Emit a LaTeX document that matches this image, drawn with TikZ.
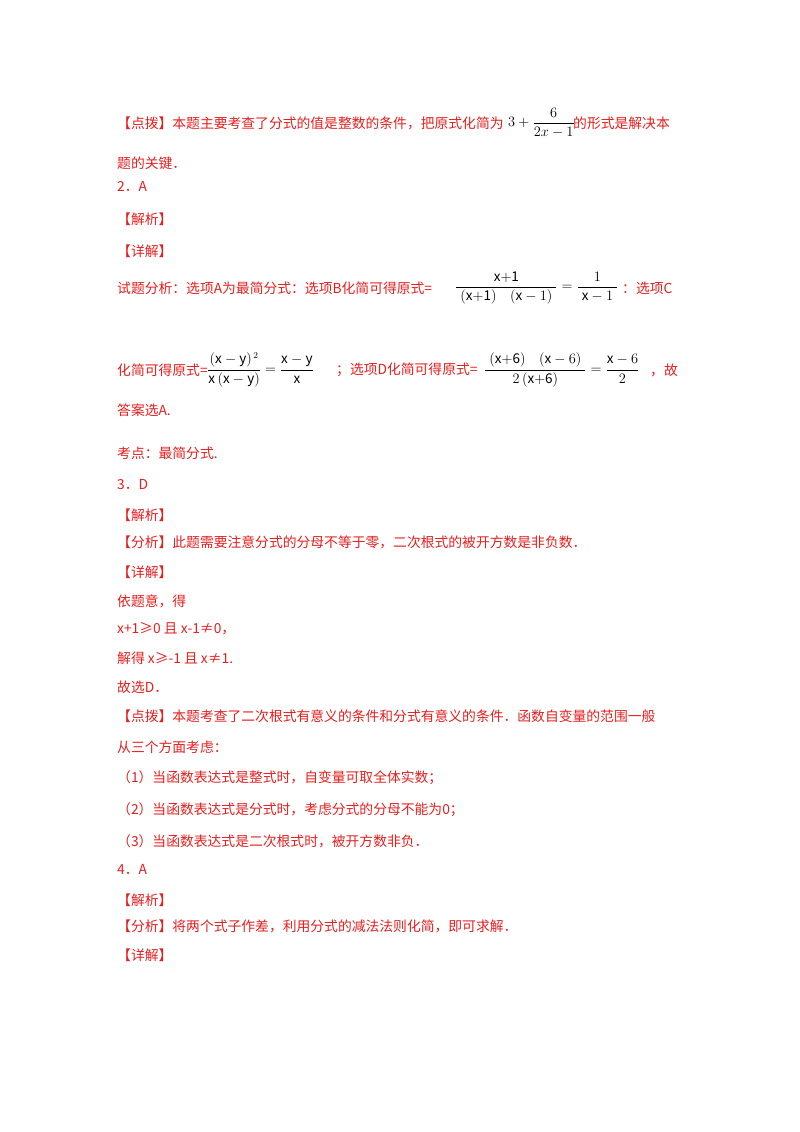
\documentclass[tikz,border=0pt]{standalone}
\usepackage{amsmath}
\usepackage{fontspec}
\setmainfont{Noto Sans CJK SC}
\definecolor{rd}{RGB}{230,30,30}
\begin{document}
\begin{tikzpicture}[x=1pt,y=-1pt,
 t/.style={anchor=west,inner sep=0pt,text=rd,font=\fontsize{13.8}{15}\selectfont},
 f/.style={anchor=west,inner sep=0pt,text=black,font=\fontsize{13.5}{15}\selectfont}]
\useasboundingbox (0,0) rectangle (800,1132);
\node[t] (l1a) at (117,123) {【点拨】本题主要考查了分式的值是整数的条件，把原式化简为};
\node[f] (l1f) at (508,123) {$3+\dfrac{6}{2x-1}$};
\node[t] (l1b) at (573,123) {的形式是解决本};
\node[t] (l2) at (117,163) {题的关键．};
\node[t] (l3) at (117,186) {2．A};
\node[t] (l4) at (117,219) {【解析】};
\node[t] (l5) at (117,251) {【详解】};
\node[t] (l6a) at (117,288) {试题分析：选项A为最简分式：选项B化简可得原式=};
\node[f] (l6f) at (455,288) {$\dfrac{\mathrm{x{+}1}}{\;(\mathrm{x{+}1})\quad(\mathrm{x}-1)\;}=\dfrac{1}{\;\mathrm{x}-1\;}$};
\node[t] (l6b) at (622,288) {：选项C};
\node[t] (l7a) at (117,370) {化简可得原式=};
\node[f] (l7f) at (207,370) {$\dfrac{(\mathrm{x}-\mathrm{y})^{\,2}}{\mathrm{x}\,(\mathrm{x}-\mathrm{y})}=\dfrac{\mathrm{x}-\mathrm{y}}{\mathrm{x}}$};
\node[t] (l7b) at (336,370) {；选项D化简可得原式=};
\node[f] (l7g) at (484,370) {$\dfrac{\;(\mathrm{x{+}6})\quad(\mathrm{x}-6)\;}{2\,(\mathrm{x{+}6})}=\dfrac{\mathrm{x}-6}{2}$};
\node[t] (l7c) at (650,370) {，故};
\node[t] (l8) at (117,410) {答案选A.};
\node[t] (l9) at (117,453) {考点：最简分式.};
\node[t] (l10) at (117,485) {3．D};
\node[t] (l11) at (117,515) {【解析】};
\node[t] (l12) at (117,542) {【分析】此题需要注意分式的分母不等于零，二次根式的被开方数是非负数．};
\node[t] (l13) at (117,572) {【详解】};
\node[t] (l14) at (117,601) {依题意，得};
\node[t] (l15) at (117,629) {x+1≥0 且 x-1≠0，};
\node[t] (l16) at (117,658) {解得 x≥-1 且 x≠1.};
\node[t] (l17) at (117,687) {故选D．};
\node[t] (l18) at (117,716) {【点拨】本题考查了二次根式有意义的条件和分式有意义的条件．函数自变量的范围一般};
\node[t] (l19) at (117,747) {从三个方面考虑：};
\node[t] (l20) at (117,778) {（1）当函数表达式是整式时，自变量可取全体实数；};
\node[t] (l21) at (117,810) {（2）当函数表达式是分式时，考虑分式的分母不能为0；};
\node[t] (l22) at (117,841) {（3）当函数表达式是二次根式时，被开方数非负．};
\node[t] (l23) at (117,869) {4．A};
\node[t] (l24) at (117,900) {【解析】};
\node[t] (l25) at (117,926) {【分析】将两个式子作差，利用分式的减法法则化简，即可求解．};
\node[t] (l26) at (117,955) {【详解】};
\end{tikzpicture}
\end{document}
